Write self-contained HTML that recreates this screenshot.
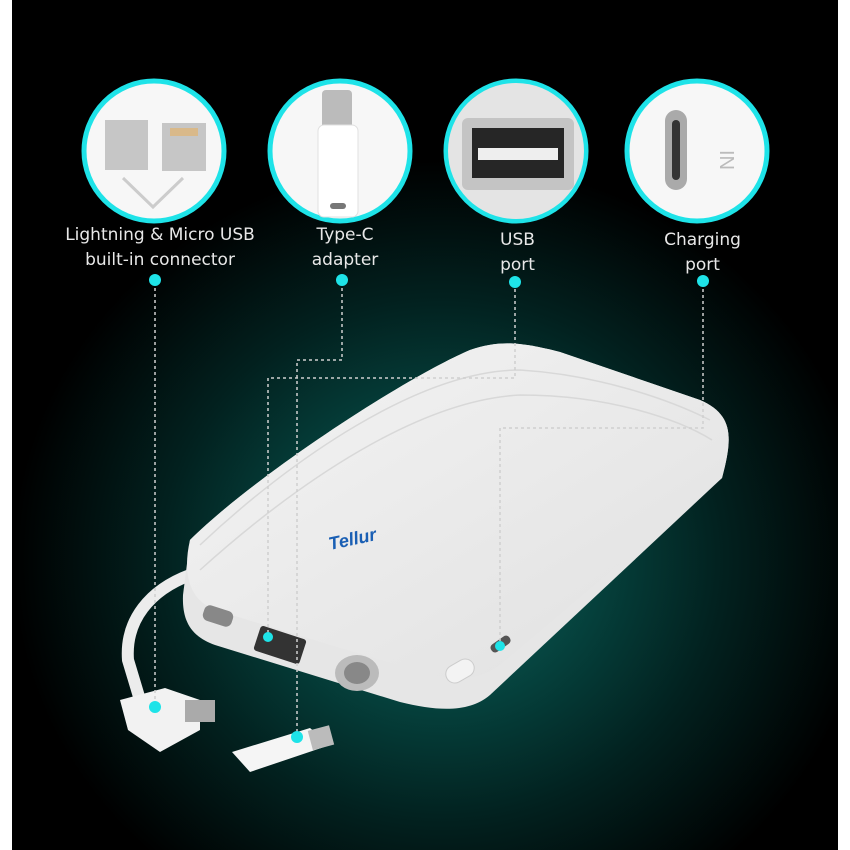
<!DOCTYPE html>
<html><head><style>
html,body{margin:0;padding:0;background:#fff;}
.wrap{position:relative;width:850px;height:850px;overflow:hidden;background:#fff;}
.bg{position:absolute;left:12px;top:0;width:826px;height:850px;
background:radial-gradient(ellipse 430px 400px at 430px 560px,#0b5d58 0%,#064843 30%,#02211f 65%,#000 100%);}
.lbl{position:absolute;color:#e8e8e8;font-family:"DejaVu Sans","Liberation Sans",sans-serif;font-size:17px;text-align:center;line-height:25px;}
</style></head><body><div class="wrap"><div class="bg"></div>
<svg width="850" height="850" style="position:absolute;left:0;top:0">
<defs>
<linearGradient id="top" x1="0" y1="0" x2="1" y2="1"><stop offset="0" stop-color="#f4f4f4"/><stop offset="1" stop-color="#e0e0e0"/></linearGradient>
<clipPath id="c3"><circle cx="516" cy="151" r="68"/></clipPath>
</defs>
<g stroke="#1ee3e8" stroke-width="5" fill="#f7f7f7">
<circle cx="154" cy="151" r="70"/><circle cx="340" cy="151" r="70"/><circle cx="516" cy="151" r="70"/><circle cx="697" cy="151" r="70"/>
</g>
<rect x="105" y="120" width="43" height="50" fill="#c6c6c6"/><rect x="162" y="123" width="44" height="48" fill="#c6c6c6"/>
<rect x="170" y="128" width="28" height="8" fill="#d9b98a"/>
<polyline points="123,178 153,207 183,178" fill="none" stroke="#ccc" stroke-width="3"/>
<rect x="322" y="90" width="30" height="40" rx="4" fill="#bbb"/>
<rect x="318" y="125" width="40" height="92" rx="6" fill="#fff" stroke="#e0e0e0"/>
<rect x="330" y="203" width="16" height="6" rx="3" fill="#777"/>
<g clip-path="url(#c3)">
<rect x="446" y="81" width="140" height="140" fill="#e4e4e4"/>
<rect x="462" y="118" width="112" height="72" rx="6" fill="#c4c4c4"/>
<rect x="472" y="128" width="92" height="50" fill="#262626"/>
<rect x="478" y="148" width="80" height="12" fill="#eee"/>
</g>
<rect x="665" y="110" width="22" height="80" rx="11" fill="#aaa"/>
<rect x="672" y="120" width="8" height="60" rx="4" fill="#333"/>
<text x="720" y="150" font-size="20" fill="#bbb" font-family="Liberation Sans" transform="rotate(90 720 150)">IN</text>
<!-- cable -->
<path d="M190 575 C150 590,125 620,128 660 L140 700" fill="none" stroke="#ececec" stroke-width="12"/>
<!-- power bank -->
<path d="M190 540 C250 480,400 380,470 350 C500 340,520 342,560 352 L700 400 C735 415,732 440,722 478 L490 695 C470 712,440 712,400 702 L215 645 C190 636,182 620,183 595 Z" fill="#e6e6e6"/>
<path d="M190 540 C250 480,400 380,470 350 C500 340,520 342,560 352 L700 400 C735 415,732 440,722 478 L500 665 C480 680,455 682,420 672 L215 610 C190 600,182 575,190 540 Z" fill="url(#top)"/>
<g fill="none" stroke="#d8d8d8" stroke-width="1.5">
<path d="M200 545 C290 460,420 370,520 370 C600 375,670 400,710 420"/>
<path d="M200 570 C300 480,420 400,520 395 C610 395,680 420,712 440"/>
</g>
<text x="330" y="550" font-family="Liberation Sans" font-weight="bold" font-style="italic" font-size="18" fill="#1a5fb4" transform="rotate(-12 330 550)">Tellur</text>
<rect x="203" y="608" width="30" height="16" rx="6" fill="#888" transform="rotate(18 218 616)"/>
<rect x="256" y="632" width="48" height="26" rx="3" fill="#333" transform="rotate(18 280 645)"/>
<ellipse cx="357" cy="673" rx="22" ry="18" fill="#bbb"/><ellipse cx="357" cy="673" rx="13" ry="11" fill="#888"/>
<rect x="445" y="662" width="30" height="18" rx="9" fill="#f3f3f3" stroke="#ccc" transform="rotate(-30 460 671)"/>
<rect x="490" y="640" width="22" height="9" rx="4" fill="#555" transform="rotate(-35 500 645)"/>
<!-- connector -->
<path d="M120 700 L165 688 L200 700 L200 730 L160 752 L128 730 Z" fill="#f2f2f2"/>
<rect x="185" y="700" width="30" height="22" fill="#aaa"/>
<!-- type-c adapter -->
<path d="M232 752 L310 728 L330 745 L250 772 Z" fill="#f5f5f5"/>
<rect x="310" y="728" width="22" height="20" fill="#bbb" transform="rotate(-15 320 738)"/>
<g fill="none" stroke="#cfcfcf" stroke-width="1.5" stroke-dasharray="3,3">
<polyline points="155,282 155,705"/>
<polyline points="342,282 342,360 297,360 297,737"/>
<polyline points="515,283 515,378 268,378 268,637"/>
<polyline points="703,283 703,428 500,428 500,645"/>
</g>
<g fill="#1ee3e8">
<circle cx="155" cy="280" r="6"/><circle cx="342" cy="280" r="6"/><circle cx="515" cy="282" r="6"/><circle cx="703" cy="281" r="6"/>
<circle cx="155" cy="707" r="6"/><circle cx="297" cy="737" r="6"/><circle cx="268" cy="637" r="5"/><circle cx="500" cy="646" r="5"/>
</g>
</svg>
<div class="lbl" style="left:40px;top:223px;width:240px;">Lightning &amp; Micro USB<br>built-in connector</div>
<div class="lbl" style="left:290px;top:223px;width:110px;">Type-C<br>adapter</div>
<div class="lbl" style="left:470px;top:228px;width:95px;">USB<br>port</div>
<div class="lbl" style="left:640px;top:228px;width:125px;">Charging<br>port</div>
</div></body></html>
